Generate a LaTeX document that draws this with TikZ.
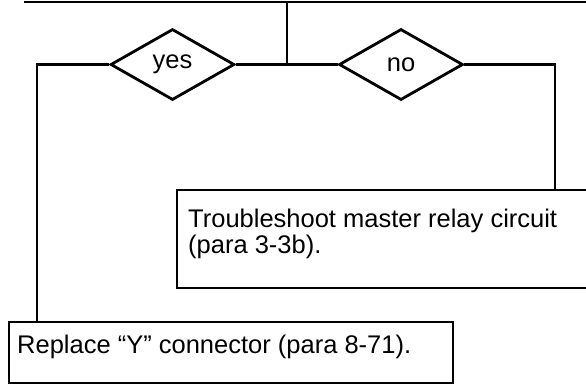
\documentclass[tikz,border=0pt]{standalone}
\usepackage{fontspec}
\setmainfont{Liberation Sans}
\usetikzlibrary{shapes.geometric,calc}
\begin{document}
\begin{tikzpicture}[x=1pt,y=-1pt,
  line/.style={line width=2.6pt},
  dec/.style={diamond, draw, line width=2.8pt, inner sep=0pt, minimum width=124pt, minimum height=71pt, font=\fontsize{25.5}{26}\selectfont},
  box/.style={draw, line width=2.4pt, rectangle, anchor=north west, inner sep=0pt},
  txt/.style={anchor=north west, inner sep=0pt, align=left, font=\fontsize{25.5}{26}\selectfont}]
\useasboundingbox (0,0) rectangle (586,384);
\clip (0,0) rectangle (586,384);
\coordinate (tl) at (24,2);
\coordinate (tr) at (600,2);
\draw[line] (tl) -- (tr);
\node[dec] (yes) at (172.5,64.5) {yes};
\node[dec] (no) at (401,64.5) {no};
\coordinate (j) at (287,2);
\draw[line] (yes.east) -- (no.west);
\draw[line] (j) -- (j |- yes.east);
\node[box, minimum width=444pt, minimum height=61pt] (ybox) at (8,321) {};
\node[box, minimum width=430pt, minimum height=98pt] (tbox) at (176,189) {};
\draw[line] (yes.west) -| ($(ybox.north west)+(29,0)$);
\draw[line] (no.east) -| ($(tbox.north west)+(379,0)$);
\node[txt] (ttext) at (188,208.5) {Troubleshoot master relay circuit\\(para 3-3b).};
\node[txt] (ytext) at (17,334.5) {Replace “Y” connector (para 8-71).};
\end{tikzpicture}
\end{document}
